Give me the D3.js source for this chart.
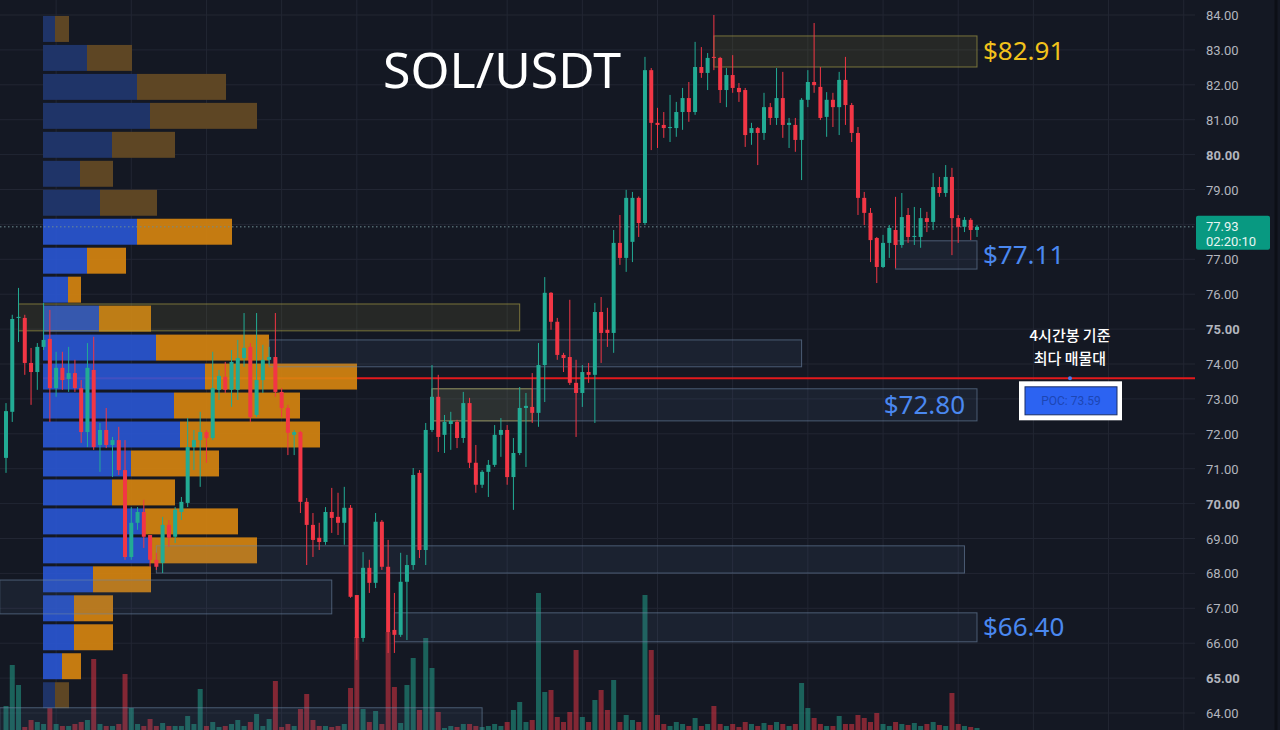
<!DOCTYPE html>
<html>
<head>
    <meta charset="utf-8">
    <script src="https://d3js.org/d3.v7.min.js"></script>
    <style>
        body { margin: 0; background: #141823; overflow: hidden; }
        .axis text { font-family: "Roboto", "DejaVu Sans", sans-serif; font-size: 13px; fill: #b2b5be; }
    </style>
</head>
<body>
    <svg width="1280" height="730"></svg>

    <script>
        const svg = d3.select("svg"),
              width = 1280, height = 730;

        // candles (4h)
        const open = [71.31,72.63,75.32,75.32,74.03,73.77,74.49,74.72,73.31,73.89,73.57,73.74,73.31,72.05,73.83,71.68,72.11,71.68,71.82,70.96,
            68.47,69.45,69.76,69.10,68.39,68.30,69.39,69.05,69.76,70.02,71.62,71.82,72.05,71.88,73.26,73.63,73.26,73.26,74.17,74.49,
            72.54,73.54,74.12,74.20,73.20,72.74,71.97,72.05,70.05,69.39,69.02,68.90,69.76,69.62,69.45,69.88,67.38,66.15,68.16,67.73,
            69.48,68.19,66.38,66.24,67.76,68.24,70.88,68.67,72.11,73.06,71.97,72.28,72.34,71.88,72.88,71.17,70.54,70.91,71.11,71.97,
            72.11,70.76,71.45,72.74,72.77,72.60,73.97,76.04,75.21,74.26,74.20,73.46,73.17,73.77,73.69,75.49,74.98,74.89,77.47,77.04,
            77.50,78.76,78.04,82.42,80.91,80.85,80.76,80.76,81.22,81.62,81.22,82.51,82.34,82.80,82.77,81.85,82.28,81.91,81.85,80.62,
            80.76,80.62,81.36,81.05,81.62,80.85,80.85,80.42,81.57,82.08,81.94,81.08,81.57,81.36,82.14,81.42,80.62,78.76,78.33,77.61,
            76.78,77.47,77.84,77.41,78.27,77.64,77.64,78.18,78.07,79.07,78.90,79.36,78.18,77.93,78.13,77.84];
        const high = [72.88,75.41,76.18,75.41,74.46,74.60,75.75,75.55,74.35,74.35,74.49,74.12,73.54,74.60,74.78,72.31,72.74,71.91,72.20,71.82,
            69.90,69.90,70.11,69.10,68.59,69.62,69.53,69.90,70.19,72.45,72.11,72.63,72.11,74.35,73.83,74.06,74.40,74.69,75.46,74.60,
            75.46,74.55,74.49,75.46,73.31,72.83,72.11,72.08,70.16,69.73,69.45,69.90,70.45,70.31,70.48,69.96,67.38,68.61,68.39,69.73,
            69.53,68.96,67.44,68.59,68.53,71.02,70.96,72.31,73.97,73.69,72.54,72.63,72.40,73.20,73.03,71.68,70.96,71.25,72.25,72.45,
            72.25,71.88,73.34,73.17,73.74,74.60,76.49,76.06,75.32,74.32,75.84,74.12,73.97,74.03,75.75,75.92,75.61,77.84,78.27,78.99,
            78.93,78.80,82.80,82.48,81.34,81.22,81.71,81.51,81.91,82.08,83.23,83.08,82.91,84.00,82.80,82.48,82.85,82.05,81.91,80.91,
            80.79,81.77,81.48,82.48,82.37,81.05,81.05,81.62,82.42,83.77,82.51,81.79,81.77,82.37,82.80,81.48,80.79,78.93,78.47,77.64,
            77.70,77.98,78.79,78.90,78.47,78.50,78.47,78.36,79.47,79.36,79.70,79.62,78.27,78.21,78.18,77.98];
        const low = [70.88,72.34,74.63,73.69,72.83,73.26,74.40,72.34,73.06,73.26,73.20,73.20,71.74,71.62,71.54,70.91,71.59,70.76,70.82,68.39,
            68.39,69.25,68.73,68.19,68.10,68.01,68.76,68.87,69.53,69.90,70.96,70.48,71.17,71.82,72.97,73.17,72.77,72.97,73.92,72.34,
            72.48,73.17,73.97,73.06,72.48,71.39,71.39,69.73,68.24,68.47,68.67,68.82,69.16,69.10,68.82,67.30,65.52,66.04,67.44,67.58,
            68.10,65.72,65.72,66.18,66.09,68.10,68.44,68.24,72.05,71.48,71.45,71.54,71.59,71.74,71.02,70.31,70.45,70.19,71.05,71.34,
            70.54,69.82,71.39,71.05,72.31,72.20,72.91,74.98,74.12,73.77,73.40,71.91,72.77,73.46,72.31,74.03,74.49,74.32,76.84,76.64,
            76.92,77.64,77.98,80.13,80.19,80.48,80.36,80.51,80.71,80.94,81.14,82.20,81.85,82.42,81.48,81.36,81.77,81.51,80.22,80.28,
            79.70,80.42,80.85,80.85,80.48,80.19,80.08,79.27,81.36,81.77,80.99,80.51,80.79,80.56,80.85,80.36,78.27,77.98,76.92,76.32,
            76.75,77.04,76.75,77.33,77.47,77.41,77.33,77.78,77.84,78.79,78.79,77.12,77.47,77.78,77.55,77.64];
        const close = [72.65,75.29,75.35,74.03,73.77,74.49,74.69,73.31,73.89,73.54,73.74,73.31,72.05,73.89,71.62,72.11,71.68,71.82,70.96,68.47,
            69.45,69.76,69.05,68.39,68.19,69.39,69.02,69.82,70.05,71.62,71.82,72.05,71.88,73.31,73.66,73.26,74.06,74.17,74.46,72.48,
            73.54,74.12,74.20,73.20,72.74,72.03,72.05,70.05,69.39,68.96,68.90,69.76,69.59,69.45,69.88,67.33,66.15,68.16,67.73,69.48,
            68.19,66.32,66.24,67.76,68.24,70.82,68.67,72.11,73.06,71.91,72.34,72.37,71.88,72.88,71.17,70.54,70.91,71.11,71.97,72.11,
            70.76,71.45,72.74,72.80,72.60,73.97,76.04,75.21,74.26,74.17,73.46,73.17,73.77,73.69,75.49,74.89,74.89,77.47,77.04,78.76,
            78.76,78.04,82.42,80.91,80.85,80.76,80.79,81.22,81.62,81.22,82.51,82.34,82.77,82.77,81.85,82.28,81.91,81.79,80.56,80.76,
            80.62,81.36,81.05,81.62,80.85,80.91,80.42,81.57,82.08,81.99,81.05,81.57,81.36,82.14,81.42,80.62,78.76,78.33,77.55,76.78,
            77.47,77.90,77.41,78.21,77.64,77.67,78.18,78.07,79.07,78.90,79.36,78.18,77.93,78.13,77.84,77.93];
        const volume = [26,67,47,5,12,10,8,46,8,6, 6,8,10,12,73,8,6,6,8,58, 24,8,6,13,6,9,6,6,6,16, 8,43,6,10,5,6,8,12,6,10,
            18,6,13,51,5,8,6,23,38,12, 6,6,5,6,8,44,95,23,10,21, 8,100,45,9,47,74,22,94,64,20, 4,6,5,8,8,6,5,6,8,6,
            10,22,30,10,12,139,40,42,15,10, 20,82,15,10,32,42,22,52,10,17, 12,10,137,82,17,8,6,10,8,6, 14,6,8,26,8,6,8,5,10,8,
            6,9,7,10,8,6,8,49,24,14, 8,6,6,16,8,8,17,14,10,19, 8,6,10,8,7,9,6,8,10,7, 6,39,8,6,5,4];

        // volume profile (K SOL), rows from top to bottom
        const profileLevels = [83.60,82.77,81.94,81.11,80.28,79.45,78.62,77.79,76.96,76.13,75.30,74.47,
            73.64,72.81,71.98,71.15,70.32,69.49,68.66,67.83,67.00,66.17,65.34,64.51];
        const profileUp = [1.2,4.4,9.4,10.7,6.9,3.7,5.7,9.4,4.4,2.5,5.6,11.3,16.2,13.1,13.7,8.8,6.9,10.2,10.7,5.0,3.1,3.1,1.9,1.2];
        const profileDown = [1.4,4.5,8.9,10.7,6.3,3.3,5.7,9.5,3.9,1.3,5.2,11.3,15.2,12.6,14.0,8.8,6.3,9.3,10.7,5.8,3.9,3.9,1.9,1.4];
        const valueAreaHigh = 77.79, valueAreaLow = 65.34;
        const poc = 73.59;
        const lastPrice = 77.93, countdown = "02:20:10";

        // zones: price band + candle index range
        const zoneTop = [83.40, 77.53, 75.72, 74.69, 73.29, 73.29, 68.79, 67.81, 66.87, 64.15];
        const zoneBottom = [82.51, 76.72, 74.95, 73.92, 72.37, 72.37, 68.01, 66.84, 66.04, 63.40];
        const zoneStart = [113, 142, 2, 42, 68, 68, 24, -1, 62, -1];
        const zoneEnd = [155, 155, 82, 127, 155, 84, 153, 52, 155, 76];
        const zoneKind = ["supply", "demand", "supply", "demand", "demand", "supply", "demand", "demand", "demand", "demand"];
        const zoneLabel = ["$82.91", "$77.11", "", "", "$72.80", "", "", "", "$66.40", ""];

        const priceTicks = d3.range(64, 85);

        const candles = open.map((o, i) => ({ i, o, h: high[i], l: low[i], c: close[i], v: volume[i] }));

        // scales
        const y = d3.scaleLinear().domain([64, 84]).range([713, 15]);
        const x = d3.scaleLinear().domain([0, 155]).range([6, 977]);
        const volY = d3.scaleLinear().domain([0, 150]).range([732, 582]);
        const profX = d3.scaleLinear().domain([0, 31.4]).range([43, 357]);
        const plotRight = 1195;

        const up = "#22ab94", down = "#f23645";

        svg.append("rect").attr("width", width).attr("height", height).attr("fill", "#141823");

        // grid
        svg.append("g").selectAll("line").data(priceTicks).enter().append("line")
            .attr("x1", 0).attr("x2", plotRight)
            .attr("y1", d => y(d)).attr("y2", d => y(d))
            .attr("stroke", "#222633").attr("stroke-width", 1);
        svg.append("g").selectAll("line").data(d3.range(8, 190, 12)).enter().append("line")
            .attr("x1", d => x(d)).attr("x2", d => x(d))
            .attr("y1", 0).attr("y2", height)
            .attr("stroke", "#222633").attr("stroke-width", 1);

        // volume bars
        svg.append("g").selectAll("rect").data(candles).enter().append("rect")
            .attr("x", d => x(d.i) - 2.5)
            .attr("width", 5)
            .attr("y", d => volY(d.v))
            .attr("height", d => volY(0) - volY(d.v))
            .attr("fill", d => d.c >= d.o ? up : down)
            .attr("opacity", 0.5);

        // POC line
        svg.append("line")
            .attr("x1", profX(0)).attr("x2", plotRight)
            .attr("y1", y(poc)).attr("y2", y(poc))
            .attr("stroke", "#e3191c").attr("stroke-width", 2);

        // volume profile
        const rowH = 0.83;
        const prof = svg.append("g");
        profileLevels.forEach((p, k) => {
            const inVA = p <= valueAreaHigh && p >= valueAreaLow;
            const y0 = y(p + rowH / 2) + 1.5, y1 = y(p - rowH / 2) - 1.5;
            prof.append("rect")
                .attr("x", profX(0)).attr("y", y0)
                .attr("width", profX(profileUp[k]) - profX(0)).attr("height", y1 - y0)
                .attr("fill", inVA ? "#2a58d8" : "#1f3468")
                .attr("opacity", inVA ? 0.88 : 1);
            prof.append("rect")
                .attr("x", profX(profileUp[k])).attr("y", y0)
                .attr("width", profX(profileUp[k] + profileDown[k]) - profX(profileUp[k])).attr("height", y1 - y0)
                .attr("fill", inVA ? "#d8860f" : "#5e4624")
                .attr("opacity", inVA ? 0.9 : 1);
        });

        // zones
        const zones = zoneTop.map((t, k) => ({ t, b: zoneBottom[k], s: zoneStart[k], e: zoneEnd[k], kind: zoneKind[k], label: zoneLabel[k] }));
        svg.append("g").selectAll("rect").data(zones).enter().append("rect")
            .attr("x", d => x(d.s)).attr("y", d => y(d.t))
            .attr("width", d => x(d.e) - x(d.s)).attr("height", d => y(d.b) - y(d.t))
            .attr("fill", d => d.kind === "supply" ? "rgba(150,145,60,0.14)" : "rgba(80,110,150,0.12)")
            .attr("stroke", d => d.kind === "supply" ? "rgba(170,160,70,0.65)" : "rgba(110,135,165,0.6)")
            .attr("stroke-width", 1);

        // current price dotted line
        svg.append("line")
            .attr("x1", 0).attr("x2", plotRight)
            .attr("y1", y(lastPrice)).attr("y2", y(lastPrice))
            .attr("stroke", "#6f8d93").attr("stroke-width", 1).attr("stroke-dasharray", "1.5,2.5");

        // candles
        const cg = svg.append("g");
        cg.selectAll("line").data(candles).enter().append("line")
            .attr("x1", d => x(d.i)).attr("x2", d => x(d.i))
            .attr("y1", d => y(d.h)).attr("y2", d => y(d.l))
            .attr("stroke", d => d.c >= d.o ? up : down).attr("stroke-width", 1);
        cg.selectAll("rect").data(candles).enter().append("rect")
            .attr("x", d => x(d.i) - 2)
            .attr("width", 4)
            .attr("y", d => y(Math.max(d.o, d.c)))
            .attr("height", d => Math.max(1, Math.abs(y(d.o) - y(d.c))))
            .attr("fill", d => d.c >= d.o ? up : down);

        // zone labels
        const lbl = svg.append("g");
        zones.filter(d => d.label).forEach(d => {
            const inside = d.label === "$72.80";
            lbl.append("text")
                .attr("x", inside ? x(d.e) - 12 : x(d.e) + 6)
                .attr("y", (y(d.t) + y(d.b)) / 2 + 9)
                .attr("text-anchor", inside ? "end" : "start")
                .attr("font-family", "Noto Sans, sans-serif")
                .attr("font-size", 26)
                .attr("fill", d.kind === "supply" ? "#f2c21b" : "#4a88f0")
                .text(d.label);
        });

        // title
        svg.append("text")
            .attr("x", 383).attr("y", 88)
            .attr("font-family", "Noto Sans, sans-serif")
            .attr("font-size", 50).attr("fill", "#ffffff")
            .text("SOL/USDT");

        // POC annotation
        const ax = 1070;
        svg.append("text").attr("x", ax).attr("y", 341)
            .attr("text-anchor", "middle").attr("font-family", "Noto Sans CJK KR")
            .attr("font-size", 15).attr("font-weight", 500).attr("fill", "#ffffff").text("4시간봉 기준");
        svg.append("text").attr("x", ax).attr("y", 364)
            .attr("text-anchor", "middle").attr("font-family", "Noto Sans CJK KR")
            .attr("font-size", 15).attr("font-weight", 500).attr("fill", "#ffffff").text("최다 매물대");
        svg.append("circle").attr("cx", ax).attr("cy", y(poc)).attr("r", 2).attr("fill", "#4a7be8");
        svg.append("rect").attr("x", ax - 51).attr("y", y(poc) + 3).attr("width", 103).attr("height", 39).attr("fill", "#ffffff");
        svg.append("rect").attr("x", ax - 45).attr("y", y(poc) + 8.5).attr("width", 92).attr("height", 28)
            .attr("fill", "#2c63f2").attr("stroke", "#1b2f66").attr("stroke-width", 1);
        svg.append("text").attr("x", ax + 1).attr("y", y(poc) + 27)
            .attr("text-anchor", "middle").attr("font-family", "Roboto, sans-serif")
            .attr("font-size", 12).attr("fill", "#1d46b4").text("POC: " + poc.toFixed(2));

        // price axis
        const axis = svg.append("g").attr("class", "axis")
            .attr("transform", `translate(${1203}, 0)`)
            .call(d3.axisRight(y).tickValues(priceTicks.filter(d => d !== 78)).tickSize(0).tickFormat(d3.format(".2f")));
        axis.select(".domain").remove();
        axis.selectAll("text").attr("x", 3).attr("dy", "0.35em")
            .attr("font-weight", d => d % 5 === 0 ? "bold" : "normal");
        svg.append("line").attr("x1", 1276).attr("x2", 1276).attr("y1", 0).attr("y2", height)
            .attr("stroke", "#0c0f16").attr("stroke-width", 3);

        // last price tag
        svg.append("rect").attr("x", 1196).attr("y", y(lastPrice) - 11).attr("width", 74).attr("height", 34)
            .attr("rx", 2).attr("fill", "#089981");
        svg.append("text").attr("x", 1206).attr("y", y(lastPrice) + 4)
            .attr("font-family", "Roboto, sans-serif").attr("font-size", 13).attr("fill", "#e8f5f2")
            .text(lastPrice.toFixed(2));
        svg.append("text").attr("x", 1206).attr("y", y(lastPrice) + 19)
            .attr("font-family", "Roboto, sans-serif").attr("font-size", 13).attr("fill", "#e8f5f2")
            .text(countdown);
    </script>
</body>
</html>
